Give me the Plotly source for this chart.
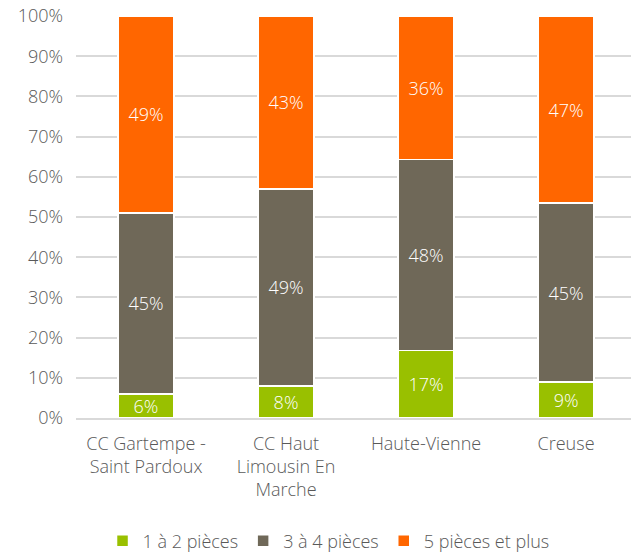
import plotly.graph_objects as go

categories = ["CC Gartempe -<br>Saint Pardoux", "CC Haut<br>Limousin En<br>Marche", "Haute-Vienne", "Creuse"]
small = [6, 8, 17, 9]        # 1 à 2 pièces
medium = [45, 49, 48, 45]    # 3 à 4 pièces
large = [49, 43, 36, 47]     # 5 pièces et plus

series = [
    ("1 à 2 pièces", small, "#99C000"),
    ("3 à 4 pièces", medium, "#6F6858"),
    ("5 pièces et plus", large, "#FF6600"),
]

font_family = "'Open Sans', sans-serif"
text_color = "#595959"
fsize = 18

fig = go.Figure()
for name, vals, color in series:
    fig.add_trace(go.Bar(
        x=categories,
        y=vals,
        name=name,
        marker=dict(color=color, line=dict(color="white", width=1.5)),
        text=[f"{v}%" for v in vals],
        textposition="inside",
        insidetextanchor="middle",
        textfont=dict(color="white", size=fsize, family=font_family, weight=300),
        hoverinfo="skip",
    ))

fig.update_layout(
    barmode="stack",
    barnorm="percent",
    bargap=0.6,
    width=631,
    height=554,
    margin=dict(l=76, r=0, t=16, b=136, autoexpand=False),
    paper_bgcolor="white",
    plot_bgcolor="white",
    font=dict(family=font_family, size=fsize, color=text_color, weight=300),
    uniformtext=dict(minsize=fsize, mode="show"),
    legend=dict(
        orientation="h",
        x=0.455, xanchor="center",
        y=-0.306, yanchor="middle",
        font=dict(size=fsize, color=text_color, weight=300),
        itemwidth=30,
        traceorder="normal",
    ),
    xaxis=dict(
        range=[-0.5, 3.464],
        showgrid=False,
        showline=True,
        linecolor="#D9D9D9",
        linewidth=2,
        tickfont=dict(size=fsize, color=text_color, weight=300),
        ticks="",
        ticklabelstandoff=8,
    ),
    yaxis=dict(
        range=[0, 100],
        tickvals=list(range(0, 101, 10)),
        ticktext=[f"{v}%" for v in range(0, 101, 10)],
        showgrid=True,
        gridcolor="#D9D9D9",
        gridwidth=2,
        zeroline=False,
        tickfont=dict(size=fsize, color=text_color, weight=300),
        ticklabelstandoff=12,
    ),
)

fig.write_html("out.html")
